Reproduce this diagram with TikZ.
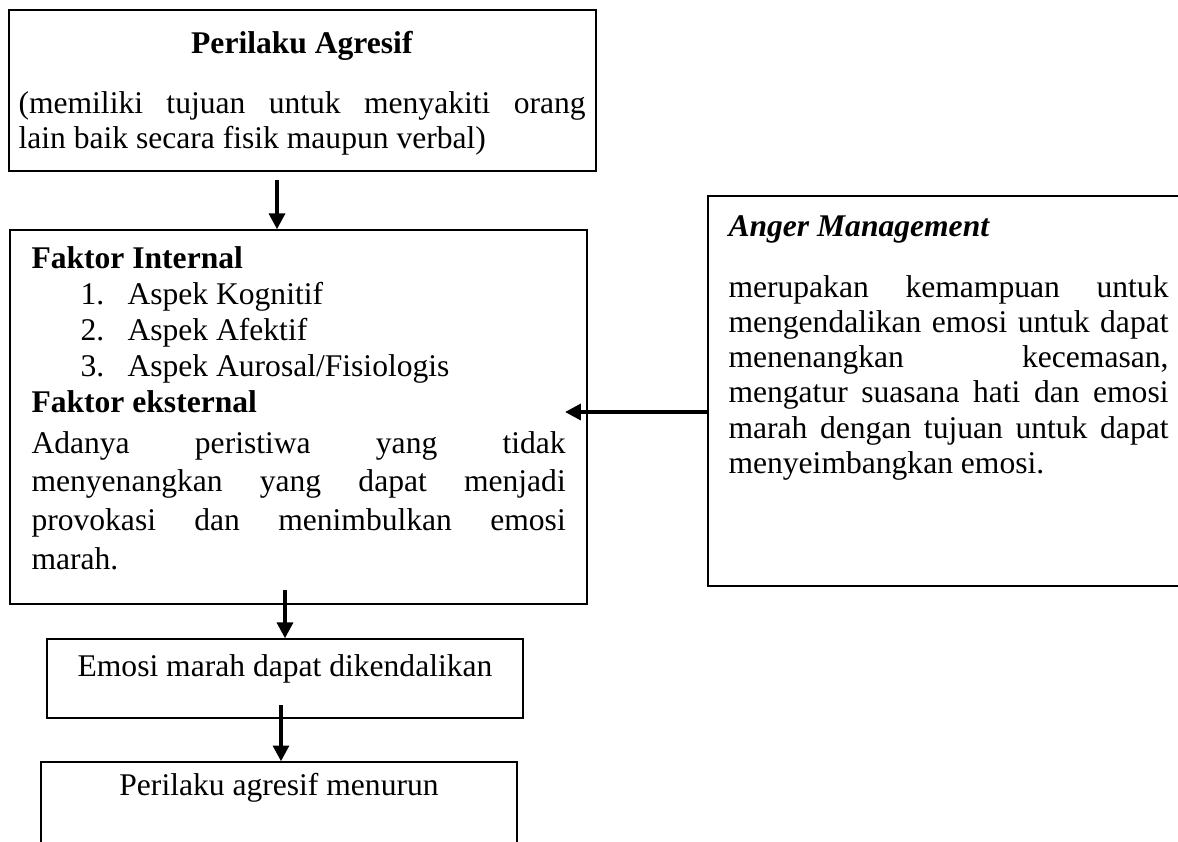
\documentclass[tikz,border=0pt]{standalone}
\usepackage{fontspec}
\setmainfont{Liberation Serif}
\usetikzlibrary{arrows.meta,fit}

\tikzset{
    box/.style={draw,line width=0.55pt,inner sep=0pt},
    arr/.style={line width=1.4pt,-{Triangle[length=6pt,width=6pt]}},
    txt/.style={inner sep=0pt,font=\fontsize{12}{13.4}\selectfont},
    para/.style={txt,align=justify,anchor=base west},
}

\begin{document}
\begin{tikzpicture}[x=0.38pt,y=-0.38pt]
        \useasboundingbox (0,0) rectangle (1178,841);
        \clip (0,0) rectangle (1178,841);

        % top box
        \node[box,fit={(9,10) (596,171)}] (agresif) {};
        \node[txt,anchor=base] (judul) at (302,53) {\textbf{Perilaku Agresif}};
        \node[para,text width=215.5pt] (arti) at (18,113)
            {(memiliki tujuan untuk menyakiti orang\linebreak lain baik secara fisik maupun verbal)};

        % faktor box
        \node[box,fit={(10,230) (587,604)}] (faktor) {};
        \node[txt,anchor=base west] (internal) at (31,268) {\textbf{Faktor Internal}};
        \node[txt,anchor=base west] (n1) at (80,304) {1.};
        \node[txt,anchor=base west] (i1) at (127,304) {Aspek Kognitif};
        \node[txt,anchor=base west] (n2) at (80,340) {2.};
        \node[txt,anchor=base west] (i2) at (127,340) {Aspek Afektif};
        \node[txt,anchor=base west] (n3) at (80,376) {3.};
        \node[txt,anchor=base west] (i3) at (127,376) {Aspek Aurosal/Fisiologis};
        \node[txt,anchor=base west] (eksternal) at (31,412) {\textbf{Faktor eksternal}};
        \node[para,text width=203pt,font=\fontsize{12}{14.8}\selectfont] (peristiwa) at (31,453)
            {Adanya peristiwa yang tidak\linebreak menyenangkan yang dapat menjadi\linebreak
             provokasi dan menimbulkan emosi\linebreak marah.};

        % anger management box
        \node[box,fit={(708,196) (1200,586)}] (anger) {};
        \node[txt,anchor=base west] (am) at (728,236) {\textbf{\textit{Anger Management}}};
        \node[para,text width=167.2pt] (definisi) at (728,297)
            {merupakan kemampuan untuk\linebreak mengendalikan emosi untuk dapat\linebreak
             menenangkan kecemasan,\linebreak mengatur suasana hati dan emosi\linebreak
             marah dengan tujuan untuk dapat\linebreak menyeimbangkan emosi.};

        % bottom boxes
        \node[box,fit={(47,639) (523,718)}] (emosi) {};
        \node[txt,anchor=base] (kendali) at (285,676) {Emosi marah dapat dikendalikan};
        \node[box,fit={(41,762) (517,880)}] (turun) {};
        \node[txt,anchor=base] (menurun) at (279,795) {Perilaku agresif menurun};

        % arrows
        \coordinate (p1) at (277,180);
        \coordinate (p2) at (285,590);
        \coordinate (p3) at (281,705);
        \coordinate (p4) at (565,412);
        \draw[arr] (p1) -- (p1 |- faktor.north);
        \draw[arr] (p2) -- (p2 |- emosi.north);
        \draw[arr] (p3) -- (p3 |- turun.north);
        \draw[arr] (p4 -| anger.west) -- (p4);
    \end{tikzpicture}
\end{document}
